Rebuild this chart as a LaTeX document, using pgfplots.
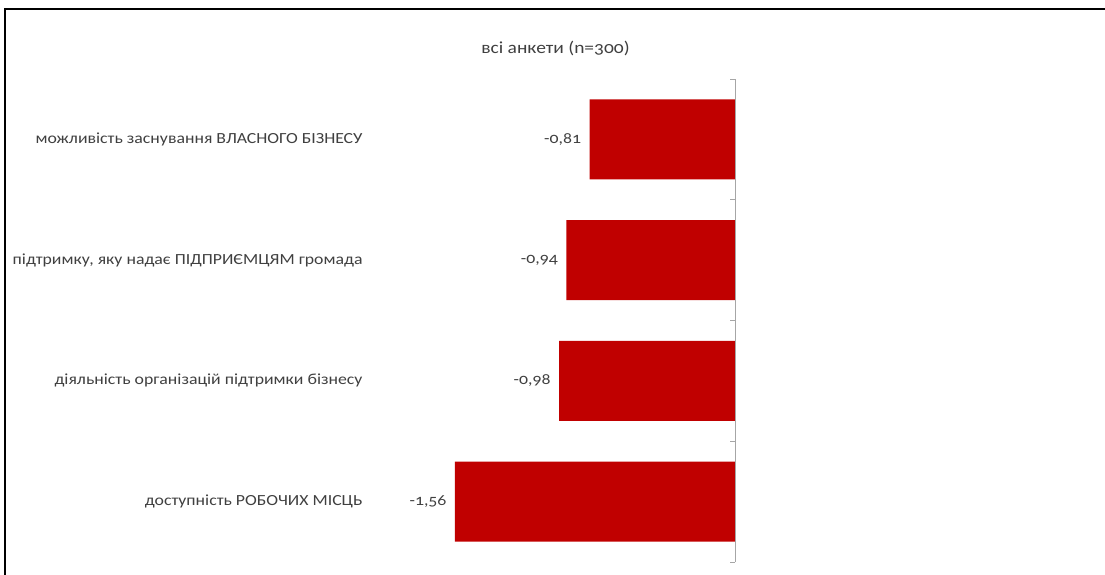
\documentclass[border=0pt]{standalone}
\usepackage{fontspec}
\setmainfont{Carlito}[Numbers=OldStyle, FakeStretch=1.15]
\usepackage{pgfplots}
\pgfplotsset{compat=1.18}
\definecolor{barred}{HTML}{C00000}
\definecolor{txt}{HTML}{404040}
\definecolor{axgray}{HTML}{A6A6A6}
\begin{document}
\begin{tikzpicture}[x=1bp,y=1bp]
\useasboundingbox (0,0) rectangle (1105,-575);
\draw[line width=2bp] (5,-576) -- (5,-9) -- (1106,-9);
\begin{axis}[
  at={(735bp,-79bp)}, anchor=north east,
  scale only axis, width=359bp, height=483bp,
  xmin=-2, xmax=0, ymin=-0.5, ymax=3.5, y dir=reverse,
  xbar, bar width=80bp, bar shift=0pt,
  clip=false,
  axis line style={draw=none},
  tick style={draw=none},
  major tick length=0pt,
  xtick=\empty,
  ytick={0,1,2,3},
  yticklabels={можливість заснування ВЛАСНОГО БІЗНЕСУ,
               {підтримку, яку надає ПІДПРИЄМЦЯМ громада},
               діяльність організацій підтримки бізнесу,
               доступність РОБОЧИХ МІСЦЬ},
  yticklabel style={font=\fontsize{15.5}{18}\selectfont, text=txt, xshift=-10bp},
  title={всі анкети (n=300)},
  title style={at={(0.5,1)}, anchor=base, yshift=20bp, font=\fontsize{17}{20}\selectfont, text=txt},
  nodes near coords, point meta=x,
  every node near coord/.append style={anchor=east, xshift=-5bp, font=\fontsize{15.5}{18}\selectfont, text=txt},
  /pgf/number format/.cd, use comma, fixed, fixed zerofill, precision=2, assume math mode=true,
]
\addplot[fill=barred, draw=none] coordinates {(-0.81,0) (-0.94,1) (-0.98,2) (-1.56,3)};
\draw[axgray, line width=1bp] (axis cs:0,-0.5) -- (axis cs:0,3.5);
\pgfplotsinvokeforeach{-0.5,0.5,1.5,2.5,3.5}{\draw[axgray, line width=1bp] (axis cs:0,#1) -- ([xshift=-5bp]axis cs:0,#1);}
\end{axis}
\end{tikzpicture}
\end{document}
